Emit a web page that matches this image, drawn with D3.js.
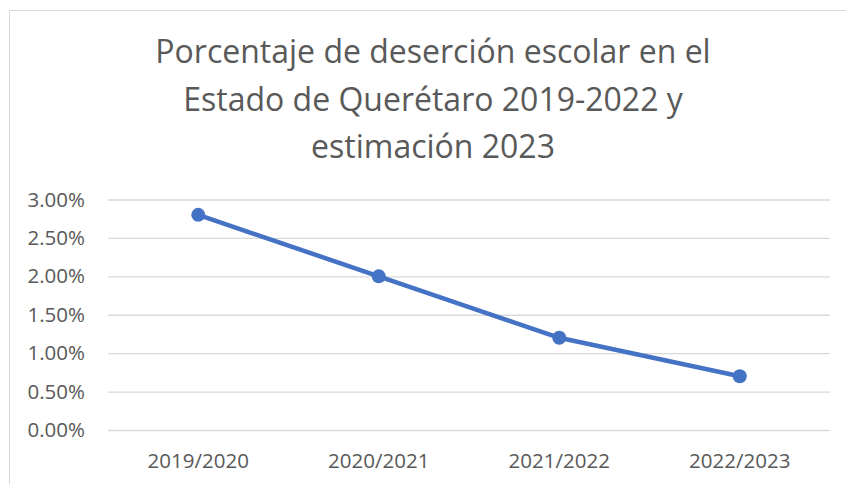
<!DOCTYPE html>
<html><head><meta charset="utf-8">
<script src="https://cdn.jsdelivr.net/npm/d3@7"></script>
<style>body{margin:0;background:#fff}svg{display:block}</style>
</head><body>
<script>
const categories = ["2019/2020","2020/2021","2021/2022","2022/2023"];
const values = [0.028, 0.020, 0.012, 0.007];
const yTicks = [0, 0.005, 0.01, 0.015, 0.02, 0.025, 0.03];
const titleLines = ["Porcentaje de deserción escolar en el","Estado de Querétaro 2019-2022 y","estimación 2023"];

const W = 846, H = 484;
const svg = d3.select("body").append("svg").attr("width", W).attr("height", H);
const font = "'Open Sans', sans-serif";

svg.append("path").attr("d", `M9.5,${H} V10.5 H${W}`).attr("fill","none").attr("stroke","#d9d9d9").attr("stroke-width",1);

const x = d3.scaleBand().domain(categories).range([108, 830]);
const y = d3.scaleLinear().domain([0, 0.03]).range([430, 199.5]);

svg.append("g").selectAll("text").data(titleLines).join("text")
  .attr("x", 433).attr("y", (d,i)=>63 + i*47.5)
  .attr("text-anchor","middle").attr("font-family",font).attr("font-size",32)
  .attr("fill","#595959").text(d=>d);

const gy = svg.append("g").attr("transform","translate(108,0)")
  .call(d3.axisLeft(y).tickValues(yTicks).tickSize(-722).tickFormat(d3.format(".2%")).tickPadding(23));
gy.select(".domain").remove();
gy.selectAll(".tick line").attr("stroke","#d9d9d9").attr("stroke-width",1.3);
gy.selectAll(".tick text").attr("font-family",font).attr("font-size",20.5).attr("fill","#595959");

const gx = svg.append("g").attr("transform","translate(0,430)")
  .call(d3.axisBottom(x).tickSize(0).tickPadding(23));
gx.select(".domain").remove();
gx.selectAll(".tick text").attr("font-family",font).attr("font-size",20.5).attr("fill","#595959");

const line = d3.line().x((d,i)=>x(categories[i]) + x.bandwidth()/2).y(d=>y(d));
svg.append("path").datum(values).attr("d", line).attr("fill","none")
  .attr("stroke","#4472c4").attr("stroke-width",4.5).attr("stroke-linejoin","round");
svg.append("g").selectAll("circle").data(values).join("circle")
  .attr("cx",(d,i)=>x(categories[i]) + x.bandwidth()/2).attr("cy",d=>y(d)).attr("r",7)
  .attr("fill","#4472c4");
</script>
</body></html>
